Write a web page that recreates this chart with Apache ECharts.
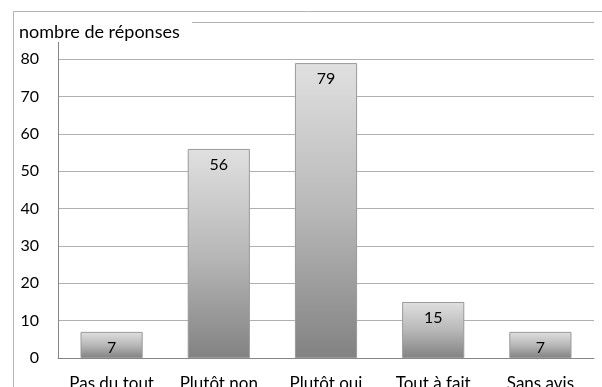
<!DOCTYPE html>
<html>
<head>
<meta charset="utf-8">
<script src="https://cdn.jsdelivr.net/npm/echarts@6/dist/echarts.min.js"></script>
<style>
  html, body { margin: 0; padding: 0; background: #fff; }
  #chart { width: 602px; height: 387px; }
</style>
</head>
<body>
<div id="chart"></div>
<script>
// Réponses par catégorie
const categories = ['Pas du tout', 'Plutôt non', 'Plutôt oui', 'Tout à fait', 'Sans avis'];
const reponses = [7, 56, 79, 15, 7];
const yTicks = { min: 0, max: 90, interval: 10 };
const titre = 'nombre de réponses';

const FONT = 'Lato, "Noto Sans", sans-serif';

const chart = echarts.init(document.getElementById('chart'), null, { renderer: 'canvas' });

chart.setOption({
  animation: false,
  backgroundColor: '#fff',
  textStyle: { fontFamily: FONT },
  title: {
    text: titre,
    left: 19,
    top: 23,
    padding: 0,
    z: 101,
    textStyle: { fontFamily: FONT, fontSize: 18, fontWeight: 'normal', color: '#000' }
  },
  graphic: [
    {
      type: 'rect',
      z: 99,
      silent: true,
      shape: { x: 13.5, y: 11.5, width: 700, height: 500 },
      style: { fill: 'none', stroke: '#b3b3b3', lineWidth: 1 }
    },
    {
      type: 'rect',
      z: 100,
      silent: true,
      shape: { x: 14, y: 12, width: 178, height: 30 },
      style: { fill: '#fff' }
    }
  ],
  grid: { left: 58, right: 8, top: 22, bottom: 29, containLabel: false, outerBoundsMode: 'none' },
  xAxis: {
    type: 'category',
    data: categories,
    axisLine: { lineStyle: { color: '#868686', width: 1 } },
    axisTick: { show: false },
    axisLabel: { color: '#000', fontSize: 17, fontFamily: FONT, margin: 17, interval: 0 }
  },
  yAxis: {
    type: 'value',
    min: yTicks.min,
    max: yTicks.max,
    interval: yTicks.interval,
    axisLine: { show: true, lineStyle: { color: '#868686', width: 1 } },
    axisTick: { show: false },
    axisLabel: { color: '#000', fontSize: 16, fontFamily: FONT, margin: 19 },
    splitLine: { lineStyle: { color: '#b0b0b0', width: 1 } }
  },
  series: [{
    type: 'bar',
    data: reponses,
    barWidth: '58%',
    itemStyle: {
      color: new echarts.graphic.LinearGradient(0, 0, 0, 1, [
        { offset: 0, color: '#e0e0e0' },
        { offset: 0.5, color: '#b8b8b8' },
        { offset: 1, color: '#828282' }
      ]),
      borderColor: '#9a9a9a',
      borderWidth: 1
    },
    label: {
      show: true,
      position: 'insideTop',
      distance: 8,
      color: '#000',
      fontSize: 16,
      fontFamily: FONT
    }
  }]
});
</script>
</body>
</html>
